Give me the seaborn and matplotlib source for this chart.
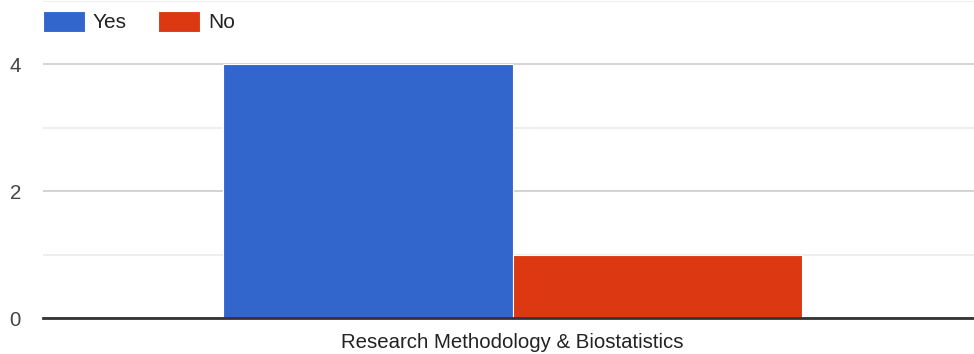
import matplotlib
matplotlib.use("Agg")
import matplotlib.pyplot as plt
import seaborn as sns
import pandas as pd

categories = ["Research Methodology & Biostatistics"]
series_names = ["Yes", "No"]
yes_values = [4]
no_values = [1]
colors = ["#3366cc", "#dc3912"]

df = pd.DataFrame({
    "category": categories * 2,
    "answer": ["Yes"] * len(categories) + ["No"] * len(categories),
    "count": yes_values + no_values,
})

sns.set_theme(style="white")
plt.rcParams["font.family"] = ["Liberation Sans", "DejaVu Sans"]

fig = plt.figure(figsize=(9.74, 3.54), dpi=100)
ax = fig.add_axes([43 / 974, 1 - 318 / 354, 1 - 43 / 974, 317 / 354])

sns.barplot(data=df, x="category", y="count", hue="answer", hue_order=series_names,
            palette=colors, saturation=1, width=0.622, gap=0, edgecolor="white",
            linewidth=0.8, ax=ax, legend=True)

shift = 4 / 931
ax.set_xlim(-0.5 - shift, 0.5 - shift)
ax.set_ylim(0, 5)
ax.set_yticks([0, 2, 4])
ax.set_yticks([1, 3, 5], minor=True)
ax.grid(True, axis="y", which="major", color="#cccccc", linewidth=1.2)
ax.grid(True, axis="y", which="minor", color="#ebebeb", linewidth=1.2)
ax.set_axisbelow(True)
for s in ["top", "right", "left"]:
    ax.spines[s].set_visible(False)
ax.spines["bottom"].set_color("#333333")
ax.spines["bottom"].set_linewidth(2)
ax.spines["bottom"].set_zorder(5)
ax.tick_params(axis="y", which="both", length=0, labelsize=14.7, labelcolor="#444444", pad=16)
ax.tick_params(axis="x", length=0, labelsize=14.7, labelcolor="#222222", pad=11)
ax.set_xlabel("")
ax.set_ylabel("")

handles, labels = ax.get_legend_handles_labels()
ax.legend(handles, labels, loc="upper left", bbox_to_anchor=(43 / 974, 1 - 11 / 354),
          bbox_transform=fig.transFigure, ncol=2, frameon=False,
          fontsize=15, handlelength=2.0, handleheight=1.15, handletextpad=0.4,
          columnspacing=1.5, borderaxespad=0, borderpad=0)
for t in ax.get_legend().get_texts():
    t.set_color("#222222")

fig.savefig("out.png", dpi=100)
